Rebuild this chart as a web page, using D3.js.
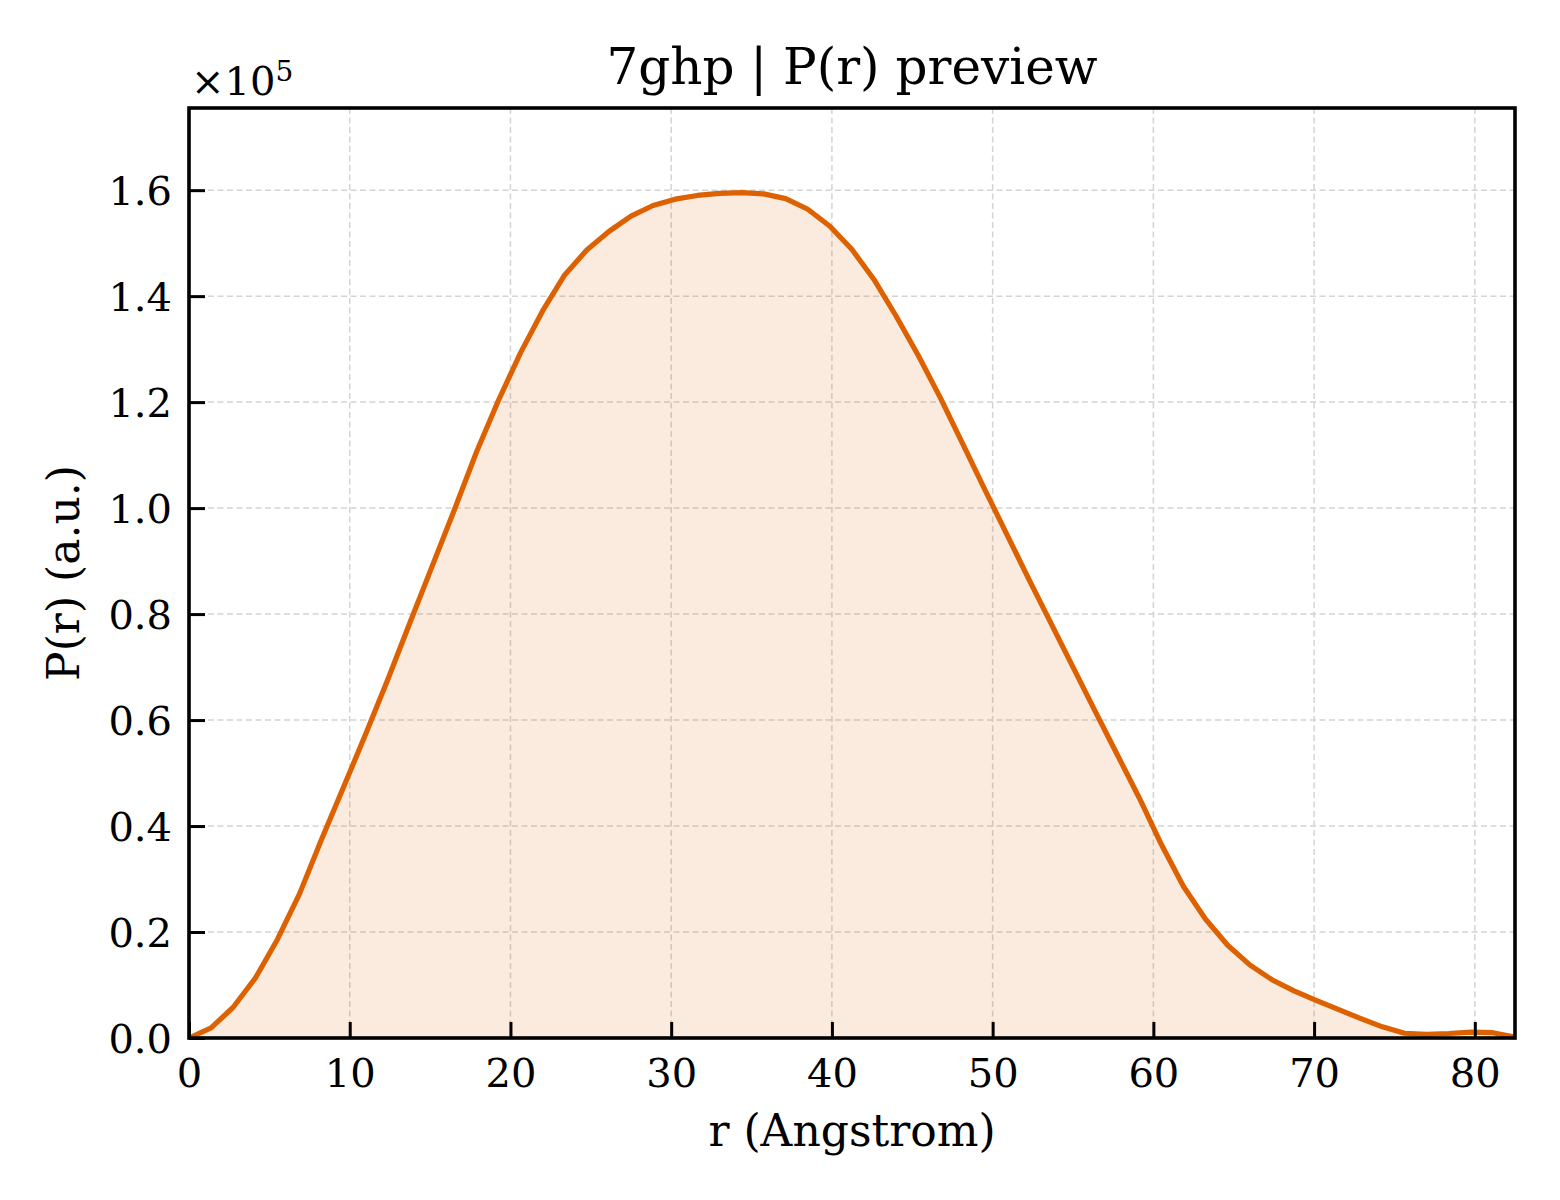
<!DOCTYPE html>
<html>
<head>
<meta charset="utf-8">
<script src="https://cdn.jsdelivr.net/npm/d3@7"></script>
<style>
  body { margin: 0; background: #fff; }
  svg text { font-family: "DejaVu Serif", serif; fill: #000; }
</style>
</head>
<body>
<svg id="chart" width="1560" height="1200"></svg>
<script>
var rValues = [0, 1.375, 2.75, 4.125, 5.5, 6.875, 8.25, 9.625, 11, 12.375,
  13.75, 15.125, 16.5, 17.875, 19.25, 20.625, 22, 23.375, 24.75, 26.125,
  27.5, 28.875, 30.25, 31.625, 33, 34.375, 35.75, 37.125, 38.5, 39.875,
  41.25, 42.625, 44, 45.375, 46.75, 48.125, 49.5, 50.875, 52.25, 53.625,
  55, 56.375, 57.75, 59.125, 60.5, 61.875, 63.25, 64.625, 66, 67.375,
  68.75, 70.125, 71.5, 72.875, 74.25, 75.625, 77, 78.375, 79.75, 81.125, 82.5];

var prValues = [0, 1900, 5800, 11300, 18600, 27200, 37500, 47400, 57400, 67700,
  78400, 89000, 99600, 110500, 120300, 129300, 137200, 144000, 148700, 152200,
  155100, 157100, 158300, 159000, 159400, 159550, 159300, 158400, 156400, 153200,
  148800, 143100, 136200, 128800, 120800, 112200, 103600, 95100, 86600, 78300,
  70000, 61700, 53500, 45300, 36500, 28600, 22400, 17500, 13800, 11000,
  8900, 7100, 5400, 3700, 2100, 900, 700, 850, 1100, 1000, 200];

var xTicks = [0, 10, 20, 30, 40, 50, 60, 70, 80];
var yTicks = [0, 20000, 40000, 60000, 80000, 100000, 120000, 140000, 160000];

var titleText = "7ghp | P(r) preview";
var xLabel = "r (Angstrom)";
var yLabel = "P(r) (a.u.)";

////////////////////////////////////////////////////////////////////////

function drawChart(){

  var svg = d3.select("#chart");
  var pLeft = 189, pRight = 1515, pTop = 108, pBottom = 1038;
  var lineColor = "#dd6100";

  var points = rValues.map(function(r, i){ return {r: r, p: prValues[i]}; });

  var x = d3.scaleLinear().domain([0, d3.max(rValues)]).range([pLeft, pRight]);
  var y = d3.scaleLinear().domain([0, d3.max(prValues) * 1.1]).range([pBottom, pTop]);

  // grid
  var grid = svg.append("g");
  grid.selectAll(".gx").data(xTicks.filter(function(d){ return d > 0; })).enter()
    .append("line")
    .attr("x1", function(d){ return x(d); }).attr("x2", function(d){ return x(d); })
    .attr("y1", pTop).attr("y2", pBottom)
    .style("stroke", "#d4d4d4").style("stroke-width", 1.5).style("stroke-dasharray", "6,3.5");
  grid.selectAll(".gy").data(yTicks.filter(function(d){ return d > 0; })).enter()
    .append("line")
    .attr("y1", function(d){ return y(d); }).attr("y2", function(d){ return y(d); })
    .attr("x1", pLeft).attr("x2", pRight)
    .style("stroke", "#d4d4d4").style("stroke-width", 1.5).style("stroke-dasharray", "6,3.5");

  // filled area + line
  var area = d3.area().x(function(d){ return x(d.r); }).y0(y(0)).y1(function(d){ return y(d.p); });
  var line = d3.line().x(function(d){ return x(d.r); }).y(function(d){ return y(d.p); });

  svg.append("path").datum(points).attr("d", area)
    .style("fill", lineColor).style("fill-opacity", 0.13);

  svg.append("path").datum(points).attr("d", line)
    .style("fill", "none").style("stroke", lineColor)
    .style("stroke-width", 5.2).style("stroke-linejoin", "round");

  // axes, ticks pointing inward
  var xAxis = d3.axisBottom(x).tickValues(xTicks).tickFormat(d3.format("d"))
    .tickSizeInner(-16).tickSizeOuter(0);
  var yAxis = d3.axisLeft(y).tickValues(yTicks).tickFormat(function(d){ return (d / 1e5).toFixed(1); })
    .tickSizeInner(-16).tickSizeOuter(0);

  var gx = svg.append("g").attr("transform", "translate(0," + pBottom + ")").call(xAxis);
  var gy = svg.append("g").attr("transform", "translate(" + pLeft + ",0)").call(yAxis);

  [gx, gy].forEach(function(g){
    g.select(".domain").remove();
    g.selectAll(".tick line").style("stroke", "#000").style("stroke-width", 3);
    g.selectAll(".tick text").style("font-family", "DejaVu Serif, serif").style("font-size", "40px");
  });
  gx.selectAll(".tick text").attr("y", 49).attr("dy", 0);
  gy.selectAll(".tick text").attr("x", -17).attr("dy", "0.36em");

  // frame
  svg.append("rect").attr("x", pLeft).attr("y", pTop)
    .attr("width", pRight - pLeft).attr("height", pBottom - pTop)
    .style("fill", "none").style("stroke", "#000").style("stroke-width", 3.6);

  // offset text x10^5
  var off = svg.append("text").attr("x", 191).attr("y", 95).style("font-size", "40px");
  off.append("tspan").text("\u00d710");
  off.append("tspan").attr("dy", -14).style("font-size", "28px").text("5");

  // title and labels
  svg.append("text").attr("x", (pLeft + pRight) / 2).attr("y", 84)
    .attr("text-anchor", "middle").style("font-size", "50px").text(titleText);

  svg.append("text").attr("x", (pLeft + pRight) / 2).attr("y", 1146)
    .attr("text-anchor", "middle").style("font-size", "44px").text(xLabel);

  svg.append("text").attr("transform", "translate(79," + ((pTop + pBottom) / 2) + ") rotate(-90)")
    .attr("text-anchor", "middle").style("font-size", "44px").text(yLabel);
}

drawChart();
</script>
</body>
</html>
